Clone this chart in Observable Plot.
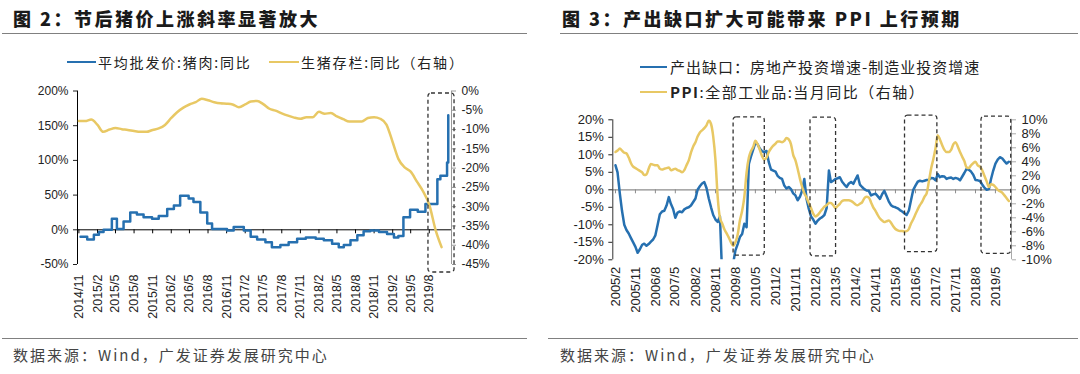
<!DOCTYPE html>
<html><head><meta charset="utf-8">
<script src="https://cdn.jsdelivr.net/npm/d3@7"></script>
<script src="https://cdn.jsdelivr.net/npm/@observablehq/plot@0.6"></script>
<style>
body{margin:0;width:1080px;height:374px;background:#fff;position:relative;overflow:hidden;font-family:"Noto Sans CJK SC",sans-serif;}
.abs{position:absolute;}
.title{font-size:18px;line-height:22px;font-weight:900;color:#1a1a1a;letter-spacing:2.5px;white-space:nowrap;}
.rule{height:0;border-top:1.5px solid #808080;}
.leg{font-size:14px;line-height:18px;color:#222;white-space:nowrap;letter-spacing:1.8px;}
.legR{font-size:15px;line-height:18px;color:#222;white-space:nowrap;letter-spacing:1px;}
.sw{height:0;border-top:2.5px solid;}
.cap{font-size:15px;line-height:18px;color:#444;letter-spacing:2px;white-space:nowrap;}
svg{overflow:visible;}
</style></head><body>
<div class="abs title" style="left:13px;top:7px;">图 2：节后猪价上涨斜率显著放大</div>
<div class="abs rule" style="left:2px;top:33px;width:525px;"></div>
<div class="abs sw" id="swL1" style="left:67px;top:61px;width:29px;"></div>
<div class="abs leg" style="left:98px;top:53px;">平均批发价:猪肉:同比</div>
<div class="abs sw" id="swL2" style="left:269px;top:61px;width:30px;"></div>
<div class="abs leg" style="left:301px;top:53px;">生猪存栏:同比（右轴）</div>
<div class="abs rule" style="left:2px;top:338px;width:525px;"></div>
<div class="abs cap" style="left:13px;top:346px;">数据来源：Wind，广发证券发展研究中心</div>

<div class="abs title" style="left:562px;top:7px;">图 3：产出缺口扩大可能带来 PPI 上行预期</div>
<div class="abs rule" style="left:560px;top:33px;width:518px;"></div>
<div class="abs sw" id="swR1" style="left:640px;top:66px;width:27px;"></div>
<div class="abs legR" style="left:670px;top:58px;">产出缺口：房地产投资增速-制造业投资增速</div>
<div class="abs sw" id="swR2" style="left:640px;top:91px;width:27px;"></div>
<div class="abs legR" style="left:670px;top:83px;letter-spacing:1.5px;"><b>PPI</b>:全部工业品:当月同比（右轴）</div>
<div class="abs rule" style="left:548px;top:338px;width:530px;"></div>
<div class="abs cap" style="left:560px;top:346px;">数据来源：Wind，广发证券发展研究中心</div>

<div class="abs" id="chartL" style="left:0;top:80px;"></div>
<div class="abs" id="chartR" style="left:540px;top:105px;"></div>
<script>
const BLUE = "#2670b0", GOLD = "#e8c864";
document.getElementById("swL1").style.borderColor = BLUE;
document.getElementById("swL2").style.borderColor = GOLD;
document.getElementById("swR1").style.borderColor = BLUE;
document.getElementById("swR2").style.borderColor = GOLD;

// ---------- Chart 2 data ----------
const pigPriceDates = ["2014-11-09","2014-12-12","2015-01-14","2015-02-08","2015-03-03","2015-04-13","2015-05-08","2015-06-10","2015-07-13","2015-08-15","2015-09-17","2015-10-29","2015-12-01","2016-01-12","2016-02-14","2016-03-16","2016-04-27","2016-05-21","2016-06-24","2016-07-28","2016-08-21","2016-11-03","2016-12-06","2017-01-25","2017-02-28","2017-04-01","2017-05-12","2017-06-13","2017-07-25","2017-09-04","2017-10-16","2017-11-28","2018-01-16","2018-02-25","2018-04-07","2018-05-10","2018-06-04","2018-07-07","2018-08-10","2018-09-10","2018-10-13","2018-11-25","2019-01-04","2019-02-07","2019-03-01","2019-03-26","2019-04-28","2019-06-05","2019-07-13","2019-09-10","2019-09-25","2019-10-28","2019-11-03"];
const pigPriceYoY = [-10,-14,-7,-3,0,16,1,12,25,22,18,16,20,30,35,49,45,40,25,9,1,-1,4,-1,-10,-14,-18,-25,-22,-18,-13,-11,-13,-15,-20,-25,-22,-15,-8,-2,-1,-3,-6,-11,-9,18,29,26,37,73,78,97,165];
const hogStockStart = "2014/11";
const hogStockYoY = [-7.8,-7.8,-7.4,-8.8,-10.6,-10.0,-9.6,-9.9,-10.1,-10.4,-10.6,-10.6,-10.1,-9.7,-8.8,-7.0,-5.5,-4.3,-3.5,-2.9,-2.0,-2.4,-2.9,-3.2,-3.3,-3.5,-4.2,-3.5,-2.7,-2.6,-3.4,-4.6,-5.1,-5.8,-6.4,-6.9,-7.2,-6.8,-6.8,-5.4,-5.9,-5.7,-6.6,-7.3,-7.9,-7.9,-7.9,-7.0,-6.8,-7.2,-8.7,-13.3,-17.6,-19.8,-20.9,-23.5,-26.0,-29.5,-36,-40.5];
const chart2XLabels = ["2014/11","2015/2","2015/5","2015/8","2015/11","2016/2","2016/5","2016/8","2016/11","2017/2","2017/5","2017/8","2017/11","2018/2","2018/5","2018/8","2018/11","2019/2","2019/5","2019/8"];
const chart2LeftTicks = [200,150,100,50,0,-50];
const chart2RightTicks = [0,-5,-10,-15,-20,-25,-30,-35,-40,-45];
const chart2Box = [{start:"2019-07-28", end:"2019-12-04", top:196.4, bottom:-61.5}];

// ---------- Chart 3 data ----------
const gapStart = "2005/2";
const outputGap = [7.0,5,-1,-6,-10,-11.5,-12.5,-13.8,-15,-16.3,
-18,-17,-15.7,-15.4,-16,-15.5,-14.8,-14.2,-13,-10,
-7,-6.2,-6,-4.5,-2.1,-4,-5.5,-8,-6.5,-6.2,
-6.4,-5.6,-5.2,-5,-4.5,-3.5,-2.5,0,1,1.8,
2.2,0.5,-2.5,-5,-7.2,-8.5,-9.2,-7.6,-25,-27,
-26,-25,-23,-21,-17.3,-15.5,-13.5,-12.6,-9.7,-10.7,
7.4,9.5,11.5,13.4,13,11.8,11,10.8,11.1,7.9,
5.8,5.5,5.2,4.0,3.4,3.1,1.2,0.4,0.8,0.2,
-1,-1.6,-3,-2,-0.2,3.1,-2.6,-5.4,-7.6,-8.5,
-9.7,-8.8,-8.2,-7.8,-7.2,-5.2,5.5,2.2,2.6,3.1,
3.3,3.6,2.3,1.5,0.8,1.8,2.2,1.7,3,4.1,
1.5,0.8,0.2,-0.2,-0.3,-1.6,-1.3,-1.1,-1.8,-2.6,
-1.2,-0.3,-1.8,-3.3,-4.4,-4.8,-5,-5.3,-5.8,-6.2,
-6.7,-7.2,-5.9,-3,0,1.2,2.3,2.6,2.4,2.6,
2.8,2.9,3.4,3.3,2.7,4.5,3.6,3.9,3.8,3.1,
3.4,3.5,3.1,3.4,3.2,2.7,3.8,4.8,6,5.7,
5.2,4.3,2.8,2.7,2.5,1.5,0.6,0,0.2,3,
5.5,7.5,8.6,9.3,9,8.2,7.5,8];
const ppiYoY = [5.4,5.6,5.9,5.6,5.3,5.2,4.6,3.8,3.3,3.1,
2.9,2.7,2.5,2.1,2.2,3.0,3.7,3.6,3.5,3.5,
3.0,2.9,3.0,3.1,3.2,2.8,2.9,3.0,2.8,2.7,
2.5,2.8,3.5,4.2,5.3,6.2,6.8,7.6,8.2,8.5,
8.8,9.2,9.9,9.4,7.6,4.2,-1,-4,-4.8,-5.6,
-6.2,-6.8,-7.5,-8.0,-7.5,-6.4,-4.4,-3,-1,2.5,
4.6,5.5,6.1,7,6.5,5.7,4.8,4.3,4.6,5.4,
5.9,6.3,6.6,6.9,6.9,6.8,7,7.4,7.2,6.5,
5.0,4.2,3.0,1.6,0.4,-0.5,-1.1,-1.9,-2.6,-3.4,
-3.8,-3.6,-3.2,-2.8,-2.4,-2.2,-1.9,-1.9,-2.2,-2.6,
-2.3,-2,-1.6,-1.5,-1.5,-1.5,-1.6,-1.8,-2.1,-2.2,
-2,-1.8,-1.2,-1.0,-1.1,-1.8,-2.5,-3,-3.6,-4.1,
-4.4,-4.6,-4.5,-4.4,-4.7,-5.2,-5.6,-5.8,-5.9,-5.9,
-5.95,-5.9,-5.6,-4.8,-4.2,-3.5,-2.8,-2.2,-1.7,-1.0,
-0.5,1.2,3,4.4,6.0,7.8,7.2,6.4,5.7,5.4,
5.4,5.7,6.5,6.8,6.2,5.4,4.7,4.1,3.2,3.1,
3.5,3.8,4.0,3.5,3.3,2.8,2.0,1.2,0.4,0.8,
0.7,0.4,0,-0.2,-0.4,-0.8,-1.2,-1.6];
const chart3XLabels = ["2005/2","2005/11","2006/8","2007/5","2008/2","2008/11","2009/8","2010/5","2011/2","2011/11","2012/8","2013/5","2014/2","2014/11","2015/8","2016/5","2017/2","2017/11","2018/8","2019/5"];
const chart3LeftTicks = [20,15,10,5,0,-5,-10,-15,-20];
const chart3RightTicks = [10,8,6,4,2,0,-2,-4,-6,-8,-10];
const chart3Boxes = [
  {start:"2009-07-07", end:"2010-09-07", top:20.7, bottom:-18.8},
  {start:"2012-05-25", end:"2013-05-10", top:20.6, bottom:-19.0},
  {start:"2015-12-10", end:"2017-02-25", top:21.2, bottom:-17.8},
  {start:"2018-10-22", end:"2019-12-03", top:20.9, bottom:-18.3}
];

// ---------- helpers ----------
const ym = s => { const [y,m] = s.split("/").map(Number); return new Date(Date.UTC(y, m-1, 1)); };
const fmtYM = d => `${d.getUTCFullYear()}/${d.getUTCMonth()+1}`;
const pct = v => `${Math.round(v)}%`;
const axisFont = "'Liberation Sans', Arial, sans-serif";

// ---------- Chart 2 ----------
{
  const W = 540, H = 250, mt = 10.5, mb = 66, ml = 77, mr = 89;
  const yDom = [-50, 200], rDom = [-45, 0];
  const toL = r => yDom[0] + (r - rDom[0]) * (yDom[1]-yDom[0]) / (rDom[1]-rDom[0]);
  const fromL = l => rDom[0] + (l - yDom[0]) * (rDom[1]-rDom[0]) / (yDom[1]-yDom[0]);
  const xDom = [new Date("2014-10-25"), new Date("2019-11-19")];
  const unitPx = (H - mt - mb) / (yDom[1]-yDom[0]);
  const tickLen = 4 / unitPx;
  const xTicks = chart2XLabels.map(ym);
  const blue = pigPriceDates.map((d,i) => ({date: new Date(d), v: pigPriceYoY[i]}));
  const gold = hogStockYoY.map((v,i) => ({date: d3.utcMonth.offset(ym(hogStockStart), i), v}));
  const boxes = chart2Box.map(b => ({...b, start: new Date(b.start), end: new Date(b.end)}));
  const svg = Plot.plot({
    width: W, height: H, marginTop: mt, marginBottom: mb, marginLeft: ml, marginRight: mr,
    x: {type: "utc", domain: xDom},
    y: {domain: yDom},
    style: {fontFamily: axisFont, fontSize: "12px", color: "#222", background: "transparent", overflow: "visible"},
    marks: [
      Plot.ruleY([0], {stroke: "#000", strokeWidth: 1}),
      Plot.ruleX(xTicks, {x: d => d, y1: 0, y2: -tickLen, stroke: "#000"}),
      Plot.ruleX([xDom[0]], {stroke: "#000", strokeWidth: 1}),
      Plot.ruleX([xDom[1]], {stroke: "#999", strokeWidth: 1}),
      Plot.axisY({ticks: chart2LeftTicks, anchor: "left", tickSize: 4, tickPadding: 5, tickFormat: pct, label: null, fontSize: 12}),
      Plot.axisY({ticks: chart2RightTicks.map(toL), anchor: "right", tickSize: 4, tickPadding: 6, stroke: "#999", tickFormat: v => pct(fromL(v)), label: null, fontSize: 12}),
      Plot.axisX({ticks: xTicks, anchor: "bottom", tickSize: 0, tickPadding: 10, tickRotate: -90, tickFormat: fmtYM, label: null, fontSize: 12.5}),
      Plot.line(blue, {x: "date", y: "v", curve: "step-after", stroke: BLUE, strokeWidth: 2.5}),
      Plot.line(gold, {x: "date", y: d => toL(d.v), curve: "monotone-x", stroke: GOLD, strokeWidth: 2.5}),
      Plot.rect(boxes, {x1: "start", x2: "end", y1: "bottom", y2: "top", fill: "none", stroke: "#333", strokeWidth: 1.3, strokeDasharray: "4,3", rx: 3})
    ]
  });
  document.getElementById("chartL").appendChild(svg);
}

// ---------- Chart 3 ----------
{
  const W = 540, H = 245, mt = 14.3, mb = 90.7, ml = 72.3, mr = 69;
  const yDom = [-20, 20], rDom = [-10, 10];
  const toL = r => yDom[0] + (r - rDom[0]) * (yDom[1]-yDom[0]) / (rDom[1]-rDom[0]);
  const fromL = l => rDom[0] + (l - yDom[0]) * (rDom[1]-rDom[0]) / (yDom[1]-yDom[0]);
  const xDom = [new Date("2004-12-26"), new Date("2019-12-07")];
  const unitPx = (H - mt - mb) / (yDom[1]-yDom[0]);
  const tickLen = 4 / unitPx;
  const xTicks = chart3XLabels.map(ym);
  const blue = outputGap.map((v,i) => ({date: d3.utcMonth.offset(ym(gapStart), i), v}));
  const gold = ppiYoY.map((v,i) => ({date: d3.utcMonth.offset(ym(gapStart), i), v}));
  const boxes = chart3Boxes.map(b => ({...b, start: new Date(b.start), end: new Date(b.end)}));
  const svg = Plot.plot({
    width: W, height: H, marginTop: mt, marginBottom: mb, marginLeft: ml, marginRight: mr,
    x: {type: "utc", domain: xDom},
    y: {domain: yDom},
    style: {fontFamily: axisFont, fontSize: "13px", color: "#222", background: "transparent", overflow: "visible"},
    marks: [
      Plot.ruleY([0], {stroke: "#8c8c8c", strokeWidth: 1.2}),
      Plot.ruleX(xTicks, {x: d => d, y1: 0, y2: -tickLen, stroke: "#8c8c8c"}),
      Plot.ruleX([xDom[0]], {stroke: "#333", strokeWidth: 1}),
      Plot.ruleX([xDom[1]], {stroke: "#aaa", strokeWidth: 1}),
      Plot.axisY({ticks: chart3LeftTicks, anchor: "left", tickSize: 4, tickPadding: 5, tickFormat: pct, label: null, fontSize: 13}),
      Plot.axisY({ticks: chart3RightTicks.map(toL), anchor: "right", tickSize: 4, tickPadding: 6, stroke: "#aaa", tickFormat: v => pct(fromL(v)), label: null, fontSize: 13}),
      Plot.axisX({ticks: xTicks, anchor: "bottom", tickSize: 0, tickPadding: 7, tickRotate: -90, tickFormat: fmtYM, label: null, fontSize: 13}),
      Plot.line(blue, {x: "date", y: "v", stroke: BLUE, strokeWidth: 2.5, clip: true}),
      Plot.line(gold, {x: "date", y: d => toL(d.v), curve: "monotone-x", stroke: GOLD, strokeWidth: 2.5, clip: true}),
      Plot.rect(boxes, {x1: "start", x2: "end", y1: "bottom", y2: "top", fill: "none", stroke: "#333", strokeWidth: 1.3, strokeDasharray: "4,3", rx: 3})
    ]
  });
  document.getElementById("chartR").appendChild(svg);
}
</script>
</body></html>
